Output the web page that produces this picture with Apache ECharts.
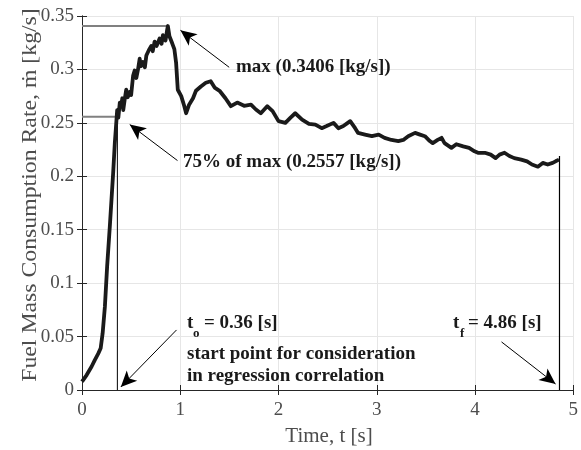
<!DOCTYPE html>
<html><head><meta charset="utf-8">
<script src="https://cdn.jsdelivr.net/npm/echarts@6/dist/echarts.min.js"></script>
<style>html,body{margin:0;padding:0;background:#fff}#c{width:581px;height:450px}</style>
</head><body><div id="c"></div>
<script>
// time [s]
const time = [0, 0.047, 0.098, 0.13, 0.165, 0.19, 0.21, 0.233, 0.256, 0.283, 0.30, 0.317, 0.334, 0.345, 0.358, 0.37, 0.385, 0.40, 0.41, 0.42, 0.435, 0.45, 0.465, 0.486, 0.50, 0.52, 0.536, 0.553, 0.57, 0.587, 0.60, 0.62, 0.64, 0.655, 0.68, 0.705, 0.72, 0.739, 0.76, 0.79, 0.81, 0.823, 0.85, 0.865, 0.874, 0.89, 0.92, 0.94, 0.958, 0.975, 1.01, 1.04, 1.06, 1.09, 1.13, 1.16, 1.21, 1.26, 1.31, 1.35, 1.40, 1.46, 1.515, 1.58, 1.65, 1.72, 1.77, 1.82, 1.885, 1.94, 2.0, 2.07, 2.12, 2.17, 2.24, 2.31, 2.375, 2.44, 2.49, 2.56, 2.61, 2.66, 2.73, 2.78, 2.81, 2.88, 2.95, 3.02, 3.08, 3.15, 3.22, 3.27, 3.32, 3.39, 3.44, 3.49, 3.54, 3.57, 3.62, 3.66, 3.69, 3.76, 3.81, 3.88, 3.94, 3.995, 4.03, 4.10, 4.16, 4.21, 4.25, 4.30, 4.35, 4.40, 4.47, 4.53, 4.58, 4.64, 4.69, 4.74, 4.79, 4.82, 4.855];
// fuel mass consumption rate [kg/s]
const rate = [0.0078, 0.014, 0.022, 0.028, 0.034, 0.039, 0.053, 0.078, 0.116, 0.153, 0.178, 0.203, 0.231, 0.245, 0.262, 0.255, 0.269, 0.265, 0.273, 0.262, 0.272, 0.281, 0.274, 0.279, 0.276, 0.294, 0.299, 0.292, 0.30, 0.31, 0.303, 0.307, 0.302, 0.313, 0.318, 0.322, 0.317, 0.326, 0.322, 0.329, 0.324, 0.332, 0.327, 0.336, 0.3406, 0.331, 0.324, 0.319, 0.306, 0.281, 0.275, 0.266, 0.259, 0.267, 0.273, 0.28, 0.284, 0.2875, 0.289, 0.283, 0.28, 0.273, 0.2656, 0.269, 0.266, 0.267, 0.2625, 0.259, 0.2656, 0.261, 0.2516, 0.25, 0.2547, 0.259, 0.253, 0.249, 0.2484, 0.245, 0.247, 0.25, 0.245, 0.247, 0.2516, 0.245, 0.2406, 0.239, 0.2375, 0.239, 0.236, 0.234, 0.233, 0.234, 0.2375, 0.2406, 0.239, 0.2375, 0.233, 0.231, 0.234, 0.236, 0.231, 0.2266, 0.23, 0.228, 0.2266, 0.2234, 0.222, 0.222, 0.2203, 0.217, 0.2203, 0.222, 0.219, 0.217, 0.2156, 0.214, 0.211, 0.209, 0.2125, 0.211, 0.2125, 0.214, 0.2156];
const maxRate = 0.3406, maxTime = 0.874;
const rate75 = 0.2557, rate75End = 0.34;
const tStart = 0.36, tEnd = 4.86, tEndTop = 0.219;
const xTicks = [0, 1, 2, 3, 4, 5];
const yTicks = [0, 0.05, 0.1, 0.15, 0.2, 0.25, 0.3, 0.35];
// annotation arrows [from, to] in data coordinates
const arrows = [
  [[1.498, 0.302], [1.002, 0.3366]],
  [[0.972, 0.2147], [0.486, 0.2484]],
  [[0.962, 0.0562], [0.395, 0.0028]],
  [[4.27, 0.045], [4.82, 0.0056]]
];

const FONT = '"Liberation Serif", "Times New Roman", serif';
const chart = echarts.init(document.getElementById('c'), null, {renderer: 'canvas'});
const axisCommon = {
  min: 0, axisLine: {show: true, lineStyle: {color: '#262626', width: 1}},
  axisTick: {show: true, inside: true, length: 5, lineStyle: {color: '#262626'}},
  axisLabel: {color: '#4d4d4d', fontFamily: FONT, fontSize: 19},
  splitLine: {show: true, lineStyle: {color: '#e6e6e6', width: 1}}
};
const option = {
  animation: false,
  grid: {left: 82, right: 5, top: 16, bottom: 60, containLabel: false},
  xAxis: [
    Object.assign({}, axisCommon, {type: 'value', max: 5, interval: 1, position: 'bottom',
      axisLabel: Object.assign({}, axisCommon.axisLabel, {margin: 11})}),
    Object.assign({}, axisCommon, {type: 'value', max: 5, interval: 1, position: 'top',
      axisLabel: {show: false}, splitLine: {show: false}})
  ],
  yAxis: [
    Object.assign({}, axisCommon, {type: 'value', max: 0.35, interval: 0.05, position: 'left',
      axisLabel: Object.assign({}, axisCommon.axisLabel, {margin: 8})}),
    Object.assign({}, axisCommon, {type: 'value', max: 0.35, interval: 0.05, position: 'right',
      axisLabel: {show: false}, splitLine: {show: false}})
  ],
  series: [
    {type: 'line', data: [[0, maxRate], [maxTime, maxRate]], symbol: 'none',
      lineStyle: {color: '#808080', width: 2}},
    {type: 'line', data: [[0, rate75], [rate75End, rate75]], symbol: 'none',
      lineStyle: {color: '#808080', width: 2}},
    {type: 'line', data: [[tStart, 0], [tStart, rate75]], symbol: 'none',
      lineStyle: {color: '#000', width: 1}},
    {type: 'line', data: [[tEnd, 0], [tEnd, tEndTop]], symbol: 'none',
      lineStyle: {color: '#000', width: 1.2}},
    {type: 'line', data: time.map((t, i) => [t, rate[i]]), symbol: 'none',
      lineStyle: {color: '#1a1a1a', width: 3.8, join: 'round'}, z: 5},
    {type: 'line', data: [], symbol: 'none',
      markLine: {silent: true, symbol: ['none', 'arrow'], symbolSize: [11, 16],
        label: {show: false}, lineStyle: {color: '#000', width: 1, type: 'solid'},
        data: arrows.map(a => [{coord: a[0]}, {coord: a[1]}])}}
  ],
  graphic: [
    {type: 'text', left: 236, top: 58, z: 100, style: {text: 'max (0.3406 [kg/s])', font: 'bold 19px ' + FONT, fill: '#1a1a1a'}},
    {type: 'text', left: 183, top: 153, z: 100, style: {text: '75% of max (0.2557 [kg/s])', font: 'bold 19px ' + FONT, fill: '#1a1a1a'}},
    {type: 'text', left: 187, top: 314, z: 100, style: {text: 't', font: 'bold 19px ' + FONT, fill: '#1a1a1a'}},
    {type: 'text', left: 193, top: 327, z: 100, style: {text: 'o', font: 'bold 13px ' + FONT, fill: '#1a1a1a'}},
    {type: 'text', left: 204, top: 314, z: 100, style: {text: '= 0.36 [s]', font: 'bold 19px ' + FONT, fill: '#1a1a1a'}},
    {type: 'text', left: 187, top: 345, z: 100, style: {text: 'start point for consideration', font: 'bold 19px ' + FONT, fill: '#1a1a1a'}},
    {type: 'text', left: 187, top: 367, z: 100, style: {text: 'in regression correlation', font: 'bold 19px ' + FONT, fill: '#1a1a1a'}},
    {type: 'text', left: 453, top: 314, z: 100, style: {text: 't', font: 'bold 19px ' + FONT, fill: '#1a1a1a'}},
    {type: 'text', left: 460, top: 327, z: 100, style: {text: 'f', font: 'bold 13px ' + FONT, fill: '#1a1a1a'}},
    {type: 'text', left: 468, top: 314, z: 100, style: {text: '= 4.86 [s]', font: 'bold 19px ' + FONT, fill: '#1a1a1a'}},
    {type: 'text', x: 329, y: 436, style: {text: 'Time, t [s]', font: '21px ' + FONT, fill: '#4d4d4d', textAlign: 'center', textVerticalAlign: 'middle'}},
    {type: 'text', x: 30, y: 195, rotation: Math.PI / 2, scaleX: 1.08, style: {text: 'Fuel Mass Consumption Rate, ṁ [kg/s]', font: '22px ' + FONT, fill: '#4d4d4d', textAlign: 'center', textVerticalAlign: 'middle'}}
  ]
};
chart.setOption(option);
</script>
</body></html>
